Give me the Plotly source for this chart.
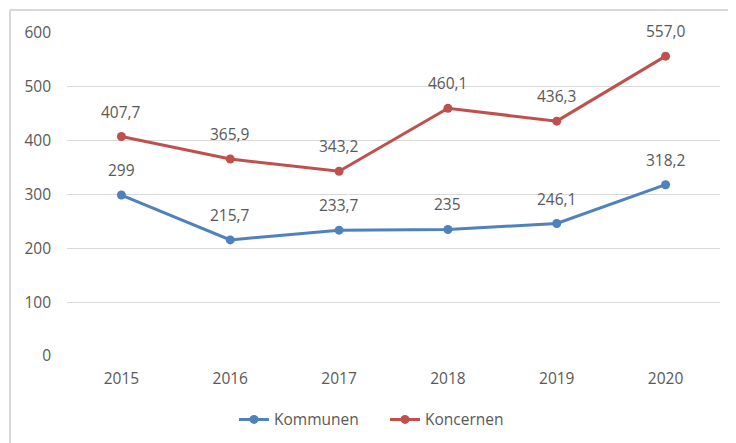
import plotly.graph_objects as go

years = ["2015", "2016", "2017", "2018", "2019", "2020"]
kommunen = [299, 215.7, 233.7, 235, 246.1, 318.2]
kommunen_labels = ["299", "215,7", "233,7", "235", "246,1", "318,2"]
koncernen = [407.7, 365.9, 343.2, 460.1, 436.3, 557.0]
koncernen_labels = ["407,7", "365,9", "343,2", "460,1", "436,3", "557,0"]
y_ticks = [0, 100, 200, 300, 400, 500, 600]

font_fam = "Open Sans, Noto Sans, Liberation Sans, sans-serif"
txt_col = "#595959"
FS = 15.5

# page body has an 8px margin; figure is sized to fit the 736x443 window
W, H = 728, 435
L, T, R, B = 59, 25, 16, 87
PW, PH = W - L - R, H - T - B

fig = go.Figure()
fig.add_trace(go.Scatter(
    x=years, y=kommunen, name="Kommunen", mode="lines+markers",
    line=dict(color="#4F81BD", width=3), marker=dict(size=9, color="#4F81BD"),
))
fig.add_trace(go.Scatter(
    x=years, y=koncernen, name="Koncernen", mode="lines+markers",
    line=dict(color="#C0504D", width=3), marker=dict(size=9, color="#C0504D"),
))

annotations = []
for ys, labs in [(kommunen, kommunen_labels), (koncernen, koncernen_labels)]:
    for i, (y, t) in enumerate(zip(ys, labs)):
        annotations.append(dict(x=i, y=y, text=t, showarrow=False, xref="x", yref="y",
                                yanchor="middle", yshift=25,
                                font=dict(size=FS, color=txt_col, family=font_fam)))

bx, by = 2, 2  # outer frame position in figure px
fig.update_layout(
    width=W, height=H,
    margin=dict(l=L, r=R, t=T, b=B, autoexpand=False),
    paper_bgcolor="white", plot_bgcolor="white",
    font=dict(family=font_fam, size=FS, color=txt_col),
    showlegend=True,
    legend=dict(orientation="h", x=(385 - 8 - L) / PW, xanchor="center", y=-0.145, yanchor="top",
                font=dict(size=FS, color=txt_col), entrywidth=106, entrywidthmode="pixels"),
    xaxis=dict(type="category", showgrid=False, showline=False, ticks="",
               tickfont=dict(size=FS, color=txt_col), range=[-0.5, 5.5],
               ticklabelstandoff=11),
    yaxis=dict(range=[0, 600], tickvals=y_ticks, showgrid=True, gridcolor="#D9D9D9",
               gridwidth=1, zeroline=False, showline=False, ticks="",
               ticklabelstandoff=15,
               tickfont=dict(size=FS, color=txt_col)),
    annotations=annotations,
    shapes=[
        dict(type="line", xref="paper", yref="paper",
             x0=(bx - L) / PW, x1=(bx - L) / PW, y0=(H - B - by) / PH, y1=-B / PH,
             line=dict(color="#D9D9D9", width=2)),
        dict(type="line", xref="paper", yref="paper",
             x0=(bx - L) / PW, x1=(W - L) / PW, y0=(H - B - by) / PH, y1=(H - B - by) / PH,
             line=dict(color="#D9D9D9", width=2)),
    ],
)

fig.write_html("out.html")
